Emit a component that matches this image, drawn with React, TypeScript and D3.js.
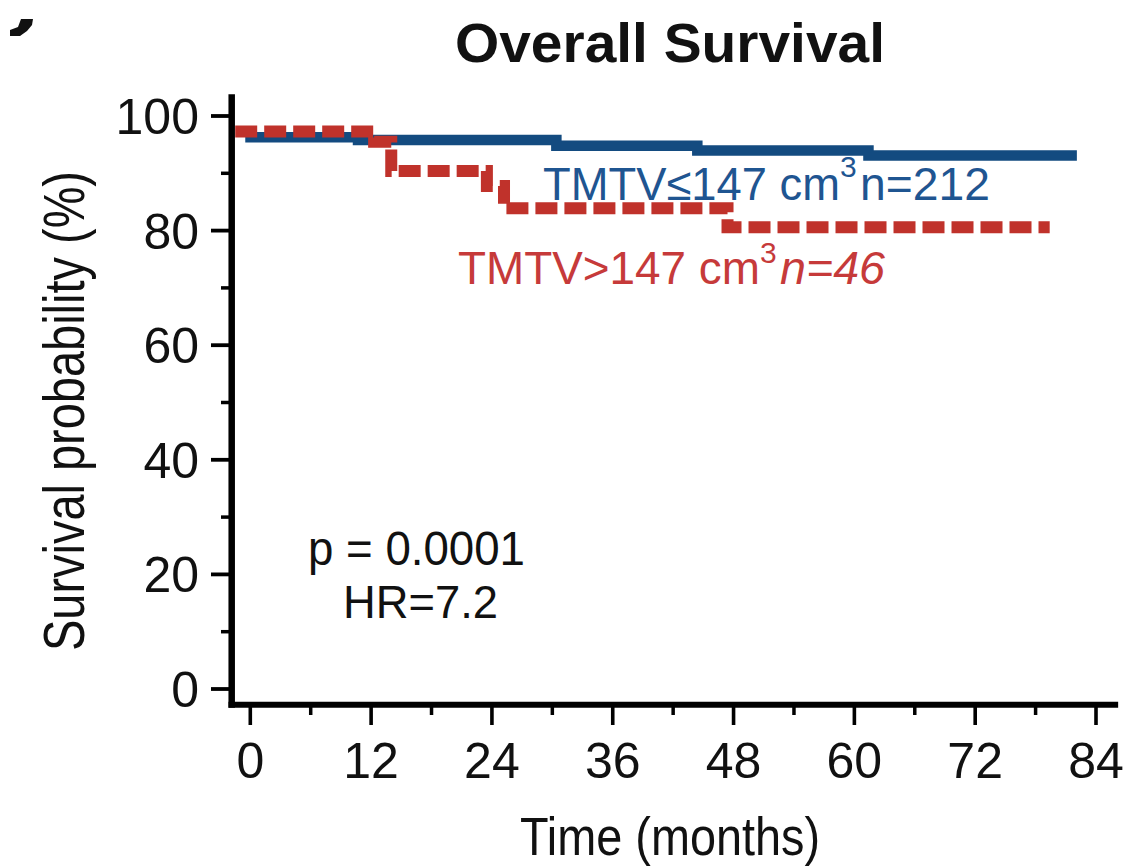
import React from "react";
import * as d3 from "d3";

// ---- data ----
const xTicks = [0, 12, 24, 36, 48, 60, 72, 84];
const xMinorTicks = [6, 18, 30, 42, 54, 66, 78];
const yTicks = [0, 20, 40, 60, 80, 100];
const yMinorTicks = [10, 30, 50, 70, 90];

// TMTV <= 147 cm3 (n=212), solid blue
const lowTimes = [-0.5, 10.7, 30.4, 44.4, 61.4, 82.1];
const lowSurv = [96.3, 95.8, 94.8, 94.0, 93.1, 93.1];

// TMTV > 147 cm3 (n=46), dashed red
const highTimes = [-1.5, 12.3, 14.0, 23.5, 25.2, 47.4, 79.4];
const highSurv = [97.3, 95.5, 90.4, 87.8, 83.9, 80.6, 80.6];

const title = "Overall Survival";
const xTitle = "Time (months)";
const yTitle = "Survival probability (%)";
const pText = "p = 0.0001";
const hrText = "HR=7.2";

const BLUE = "#134b80";
const BLUE_TXT = "#1f5591";
const RED = "#c0322b";
const RED_TXT = "#c63a3a";
const FONT = "'Liberation Sans', Arial, sans-serif";

export default function App() {
  const W = 1124;
  const H = 867;
  const x = d3.scaleLinear().domain([0, 84]).range([250.3, 1096]);
  const y = d3.scaleLinear().domain([0, 100]).range([689, 116]);

  const step = d3
    .line<[number, number]>()
    .x((d) => x(d[0]))
    .y((d) => y(d[1]))
    .curve(d3.curveStepAfter);

  const lowPts: [number, number][] = lowTimes.map((t, i) => [t, lowSurv[i]]);
  const highPts: [number, number][] = highTimes.map((t, i) => [t, highSurv[i]]);

  const axisX1 = x(86.2);
  const axisY = y(-2.75);
  const axisTop = y(103.8);
  const yAxisX = 231.7;

  return (
    <svg
      width={W}
      height={H}
      style={{ position: "absolute", left: 0, top: 0, background: "#fff" }}
      fontFamily={FONT}
    >
      <rect x={0} y={0} width={W} height={H} fill="#fff" />
      {/* stray corner mark */}
      <path
        d="M21,19 L33,19 L32,25 L27,31 L20,36 L10,36 L10,30 L18,27 Z"
        fill="#111"
      />
      {/* title */}
      <text
        x={670}
        y={62}
        textAnchor="middle"
        fontSize={55}
        fontWeight="bold"
        fill="#111"
        textLength={430}
        lengthAdjust="spacingAndGlyphs"
      >
        {title}
      </text>

      {/* curves */}
      <path d={step(lowPts) || ""} fill="none" stroke={BLUE} strokeWidth={10.5} />
      <path
        d={step(highPts) || ""}
        fill="none"
        stroke={RED}
        strokeWidth={12}
        strokeDasharray="22 7"
        strokeLinecap="butt"
      />

      {/* axes */}
      <line x1={yAxisX} x2={yAxisX} y1={axisTop} y2={axisY + 3} stroke="#000" strokeWidth={6.5} />
      <line x1={yAxisX - 3.2} x2={axisX1} y1={axisY} y2={axisY} stroke="#000" strokeWidth={6} />

      {yTicks.map((t) => (
        <g key={"yt" + t}>
          <line x1={211} x2={yAxisX} y1={y(t)} y2={y(t)} stroke="#000" strokeWidth={3.8} />
          <text x={199} y={y(t) + 18} textAnchor="end" fontSize={50} fill="#111">
            {t}
          </text>
        </g>
      ))}
      {yMinorTicks.map((t) => (
        <line key={"ym" + t} x1={221} x2={yAxisX} y1={y(t)} y2={y(t)} stroke="#000" strokeWidth={3.5} />
      ))}
      {xTicks.map((t) => (
        <g key={"xt" + t}>
          <line x1={x(t)} x2={x(t)} y1={axisY} y2={725} stroke="#000" strokeWidth={3.6} />
          <text x={x(t)} y={778} textAnchor="middle" fontSize={50} fill="#111">
            {t}
          </text>
        </g>
      ))}
      {xMinorTicks.map((t) => (
        <line key={"xm" + t} x1={x(t)} x2={x(t)} y1={axisY} y2={715} stroke="#000" strokeWidth={3.5} />
      ))}

      {/* axis titles */}
      <text
        x={670}
        y={855}
        textAnchor="middle"
        fontSize={54}
        fill="#111"
        textLength={300}
        lengthAdjust="spacingAndGlyphs"
      >
        {xTitle}
      </text>
      <text
        transform="translate(84,411) rotate(-90)"
        textAnchor="middle"
        fontSize={57}
        fill="#111"
        textLength={480}
        lengthAdjust="spacingAndGlyphs"
      >
        {yTitle}
      </text>

      {/* curve labels */}
      <text y={200} fontSize={46} fill={BLUE_TXT}>
        <tspan x={543} textLength={297} lengthAdjust="spacingAndGlyphs">
          TMTV≤147 cm
        </tspan>
        <tspan x={840} y={177} fontSize={30}>
          3
        </tspan>
        <tspan x={860} y={200} textLength={130} lengthAdjust="spacingAndGlyphs">
          n=212
        </tspan>
      </text>

      <text y={284} fontSize={46} fill={RED_TXT}>
        <tspan x={458} textLength={302} lengthAdjust="spacingAndGlyphs">
          TMTV&gt;147 cm
        </tspan>
        <tspan x={760} y={263} fontSize={30}>
          3
        </tspan>
        <tspan x={780} y={284} fontStyle="italic" textLength={105} lengthAdjust="spacingAndGlyphs">
          n=46
        </tspan>
      </text>

      {/* statistics */}
      <text x={308} y={565} fontSize={48} fill="#111" textLength={217} lengthAdjust="spacingAndGlyphs">
        {pText}
      </text>
      <text x={343} y={618} fontSize={47} fill="#111" textLength={155} lengthAdjust="spacingAndGlyphs">
        {hrText}
      </text>
    </svg>
  );
}
